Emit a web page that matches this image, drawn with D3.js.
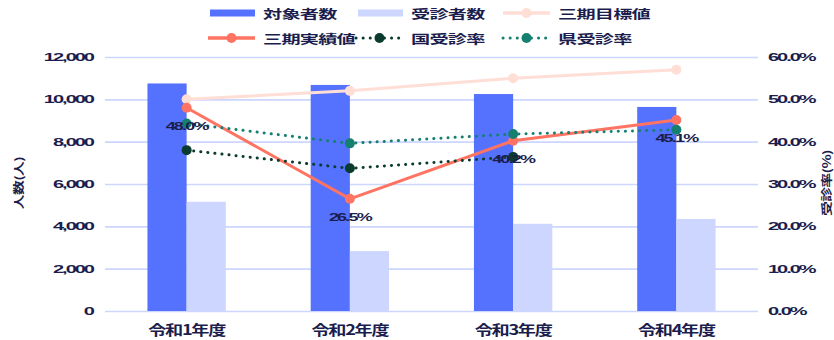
<!DOCTYPE html>
<html>
<head>
<meta charset="utf-8">
<script src="https://cdn.jsdelivr.net/npm/d3@7"></script>
<style>
  html, body { margin: 0; padding: 0; background: #fff; }
  svg text { fill: #1a1d4d; }
  .num { font-family: "Liberation Sans", Arial, sans-serif; font-weight: bold; }
  .cjk { font-family: "Noto Sans CJK JP", "Noto Sans", sans-serif; font-weight: bold; }
</style>
</head>
<body>
<svg id="chart" width="834" height="340"></svg>
<script>
// Fiscal years
const categories = ['令和1年度', '令和2年度', '令和3年度', '令和4年度'];
// Head counts (left axis)
const targetCounts = [10750, 10680, 10250, 9640];
const examineeCounts = [5160, 2830, 4120, 4348];
// Rates in % (right axis)
const goalRate = [50, 52, 55, 57];
const actualRate = [48.0, 26.5, 40.2, 45.1];
const nationalRate = [38.0, 33.7, 36.4];
const prefRate = [44.3, 39.6, 41.8, 42.8];
// Axis ticks
const countTicks = [0, 2000, 4000, 6000, 8000, 10000, 12000];
const rateTicks = [0, 10, 20, 30, 40, 50, 60];

const seriesNames = ['対象者数', '受診者数', '三期目標値', '三期実績値', '国受診率', '県受診率'];
const colors = {
  target: '#5572ff', examinee: '#cdd6ff', goal: '#ffded6',
  actual: '#ff7363', national: '#0b3a2e', pref: '#158070', grid: '#cdd6ff'
};

const svg = d3.select('#chart');
const plotLeft = 105, plotRight = 758, plotTop = 57, plotBottom = 311;

const x = d3.scaleBand().domain(categories).range([plotLeft, plotRight]);
const xs = d3.scaleBand().domain(['t', 'e'])
  .range([x.bandwidth() * 0.26, x.bandwidth() * 0.74]);
const yL = d3.scaleLinear().domain([0, 12000]).range([plotBottom, plotTop]);
const yR = d3.scaleLinear().domain([0, 60]).range([plotBottom, plotTop]);

// Stretched text helper
function stretchText(g, px, py, str, o) {
  return g.append('text')
    .attr('class', o.cls)
    .attr('transform', `translate(${px},${py})${o.rot ? ` rotate(${o.rot})` : ''} scale(${o.sx},1)`)
    .attr('text-anchor', o.anchor || 'start')
    .style('font-size', o.size + 'px')
    .style('letter-spacing', (o.ls || 0) + 'px')
    .text(str);
}

// Gridlines
const grid = svg.append('g').attr('transform', `translate(${plotLeft},0)`)
  .call(d3.axisLeft(yL).tickValues(countTicks).tickSize(-(plotRight - plotLeft)).tickFormat(''));
grid.select('.domain').remove();
grid.selectAll('.tick line').attr('stroke', colors.grid).attr('stroke-width', 1.6);

// Left axis labels
const axL = svg.append('g').attr('transform', `translate(${plotLeft},0)`)
  .call(d3.axisLeft(yL).tickValues(countTicks).tickSize(0).tickPadding(12).tickFormat(d3.format(',')));
axL.select('.domain').remove();
axL.selectAll('.tick text')
  .attr('class', 'num').attr('fill', null)
  .style('font-size', '10px').style('letter-spacing', '-1px')
  .attr('x', -6).attr('dy', '0.36em')
  .attr('transform', 'scale(2,1)');

// Right axis labels
const axR = svg.append('g').attr('transform', `translate(${plotRight},0)`)
  .call(d3.axisRight(yR).tickValues(rateTicks).tickSize(0).tickPadding(10).tickFormat(d => d.toFixed(1) + '%'));
axR.select('.domain').remove();
axR.selectAll('.tick text')
  .attr('class', 'num').attr('fill', null)
  .style('font-size', '10px').style('letter-spacing', '-1px')
  .attr('x', 5).attr('dy', '0.36em')
  .attr('transform', 'scale(2,1)');

// X axis labels
const axX = svg.append('g').attr('transform', `translate(0,${plotBottom})`)
  .call(d3.axisBottom(x).tickSize(0).tickPadding(0));
axX.select('.domain').remove();
axX.selectAll('.tick text')
  .attr('class', 'cjk').attr('fill', null)
  .style('font-size', '14px').style('letter-spacing', '-1px')
  .attr('y', 24).attr('dy', 0)
  .attr('transform', 'scale(1.3,1)');

// Axis titles
stretchText(svg, 23, 183, '人数(人)', { cls: 'cjk', size: 11, sx: 1.35, rot: -90, anchor: 'middle', ls: -0.5 });
stretchText(svg, 831, 183, '受診率(%)', { cls: 'cjk', size: 11, sx: 1.35, rot: -90, anchor: 'middle', ls: -0.5 });

// Bars
const bars = svg.append('g');
bars.selectAll('rect.t').data(targetCounts).join('rect').attr('class', 't')
  .attr('x', (d, i) => x(categories[i]) + xs('t'))
  .attr('y', d => yL(d)).attr('width', xs.bandwidth())
  .attr('height', d => plotBottom - yL(d)).attr('fill', colors.target);
bars.selectAll('rect.e').data(examineeCounts).join('rect').attr('class', 'e')
  .attr('x', (d, i) => x(categories[i]) + xs('e'))
  .attr('y', d => yL(d)).attr('width', xs.bandwidth())
  .attr('height', d => plotBottom - yL(d)).attr('fill', colors.examinee);

// Rate lines
const cx = i => x(categories[i]) + x.bandwidth() / 2;
const line = d3.line().x((d, i) => cx(i)).y(d => yR(d));

function drawLine(values, color, dotted) {
  const g = svg.append('g');
  const p = g.append('path').datum(values).attr('d', line)
    .attr('fill', 'none').attr('stroke', color).attr('stroke-width', 3);
  if (dotted) p.attr('stroke-dasharray', '0.1 7').attr('stroke-linecap', 'round');
  g.selectAll('circle').data(values).join('circle')
    .attr('cx', (d, i) => cx(i)).attr('cy', d => yR(d)).attr('r', 5).attr('fill', color);
}
drawLine(goalRate, colors.goal, false);
drawLine(actualRate, colors.actual, false);
drawLine(nationalRate, colors.national, true);
drawLine(prefRate, colors.pref, true);

// Value labels on actual rate
const lbl = svg.append('g');
actualRate.forEach((v, i) => {
  stretchText(lbl, cx(i), yR(v) + 22, v.toFixed(1) + '%', { cls: 'num', size: 10, sx: 1.8, ls: -1, anchor: 'middle' });
});

// Legend
const legend = svg.append('g');
const colX = [208, 356, 503];
const rowY = [13, 38];
const legendItems = [
  { type: 'rect', color: colors.target },
  { type: 'rect', color: colors.examinee },
  { type: 'line', color: colors.goal },
  { type: 'line', color: colors.actual },
  { type: 'dot', color: colors.national },
  { type: 'dot', color: colors.pref }
];
legendItems.forEach((it, k) => {
  const lx = colX[k % 3], ly = rowY[Math.floor(k / 3)];
  if (it.type === 'rect') {
    legend.append('rect').attr('x', lx + 2).attr('y', ly - 3.5).attr('width', 45).attr('height', 7).attr('fill', it.color);
  } else {
    const l = legend.append('line').attr('x1', lx).attr('x2', lx + 47).attr('y1', ly).attr('y2', ly)
      .attr('stroke', it.color).attr('stroke-width', 3.5);
    if (it.type === 'dot') l.attr('stroke-dasharray', '0.1 7').attr('stroke-linecap', 'round').attr('stroke-width', 3);
    legend.append('circle').attr('cx', lx + 23.5).attr('cy', ly).attr('r', 5).attr('fill', it.color);
  }
});
legendItems.forEach((it, k) => {
  const lx = colX[k % 3], ly = rowY[Math.floor(k / 3)];
  stretchText(legend, lx + 55, ly + 5.5, seriesNames[k], { cls: 'cjk', size: 12, sx: 1.6, ls: -0.5 });
});
</script>
</body>
</html>
